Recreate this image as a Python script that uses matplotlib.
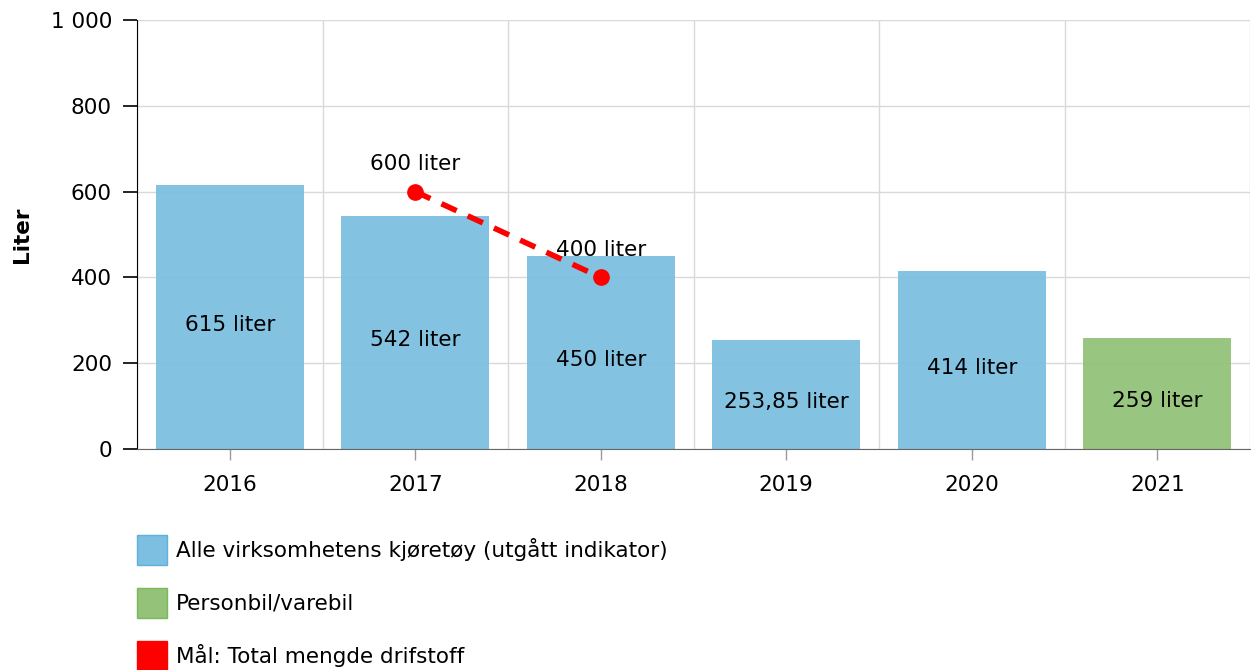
import numpy as np
import matplotlib.pyplot as plt
from matplotlib.patches import Patch
from matplotlib.ticker import FuncFormatter

years = ["2016", "2017", "2018", "2019", "2020", "2021"]
alle_vals = [615, 542, 450, 253.85, 414, None]
alle_labels = ["615 liter", "542 liter", "450 liter", "253,85 liter", "414 liter", ""]
person_vals = [None, None, None, None, None, 259]
person_labels = ["", "", "", "", "", "259 liter"]
goal_years = ["2017", "2018"]
goal_vals = [600, 400]
goal_labels = ["600 liter", "400 liter"]

blue = "#7cbfe0"
green = "#93c278"
red = "#ff0000"
fsize = 15.5

fig = plt.figure(figsize=(12.51, 6.70), dpi=100)
ax = fig.add_axes([137/1251, 1-449/670, 1113/1251, 429/670])

x = np.arange(len(years))
for i in range(len(years)):
    if alle_vals[i] is not None:
        ax.bar(x[i], alle_vals[i], width=0.8, color=blue, alpha=0.95, zorder=2)
        ax.text(x[i], alle_vals[i]/2 - 18, alle_labels[i], ha="center", va="center", fontsize=fsize, zorder=4)
    if person_vals[i] is not None:
        ax.bar(x[i], person_vals[i], width=0.8, color=green, alpha=0.95, zorder=2)
        ax.text(x[i], person_vals[i]/2 - 18, person_labels[i], ha="center", va="center", fontsize=fsize, zorder=4)

gx = [years.index(y) for y in goal_years]
ax.plot(gx, goal_vals, color=red, linestyle=(0, (3, 2.2)), linewidth=4, marker="o", markersize=11, zorder=5)
for xi, v, lab in zip(gx, goal_vals, goal_labels):
    ax.text(xi, v + 64, lab, ha="center", va="center", fontsize=fsize, zorder=6)

ax.set_xlim(-0.5, len(years) - 0.5)
ax.set_ylim(0, 1000)
ax.set_yticks([0, 200, 400, 600, 800, 1000])
ax.yaxis.set_major_formatter(FuncFormatter(lambda v, p: f"{int(v):,}".replace(",", " ")))
ax.set_xticks(x)
ax.set_xticklabels(years)
ax.set_xticks(np.arange(len(years) + 1) - 0.5, minor=True)

ax.grid(False)
ax.yaxis.grid(True, color="#d9d9d9", linewidth=1, zorder=0)
ax.xaxis.grid(True, which="minor", color="#d9d9d9", linewidth=1, zorder=0)
ax.set_axisbelow(True)

for s in ["top", "right"]:
    ax.spines[s].set_visible(False)
ax.spines["left"].set_color("black")
ax.spines["bottom"].set_color("#666666")
ax.tick_params(axis="y", length=10, width=1.2, color="black", labelsize=fsize, pad=8)
ax.tick_params(axis="x", which="major", length=8, width=1, color="#999999", labelsize=fsize, pad=11)
ax.tick_params(axis="x", which="minor", length=0)

ax.set_ylabel("Liter", fontsize=fsize, fontweight="bold")
ax.yaxis.set_label_coords(-0.094, 0.5)

handles = [
    Patch(facecolor=blue, edgecolor="#5fb0dc", label="Alle virksomhetens kjøretøy (utgått indikator)"),
    Patch(facecolor=green, edgecolor="#7ab85a", label="Personbil/varebil"),
    Patch(facecolor=red, edgecolor=red, label="Mål: Total mengde drifstoff"),
]
fig.legend(handles=handles, loc="upper left", bbox_to_anchor=(133/1251, 1-531/670), frameon=False,
           fontsize=fsize, handlelength=1.4, handleheight=1.75, labelspacing=1.07, handletextpad=0.4,
           borderaxespad=0, borderpad=0.2)

fig.savefig("out.png", dpi=100)
